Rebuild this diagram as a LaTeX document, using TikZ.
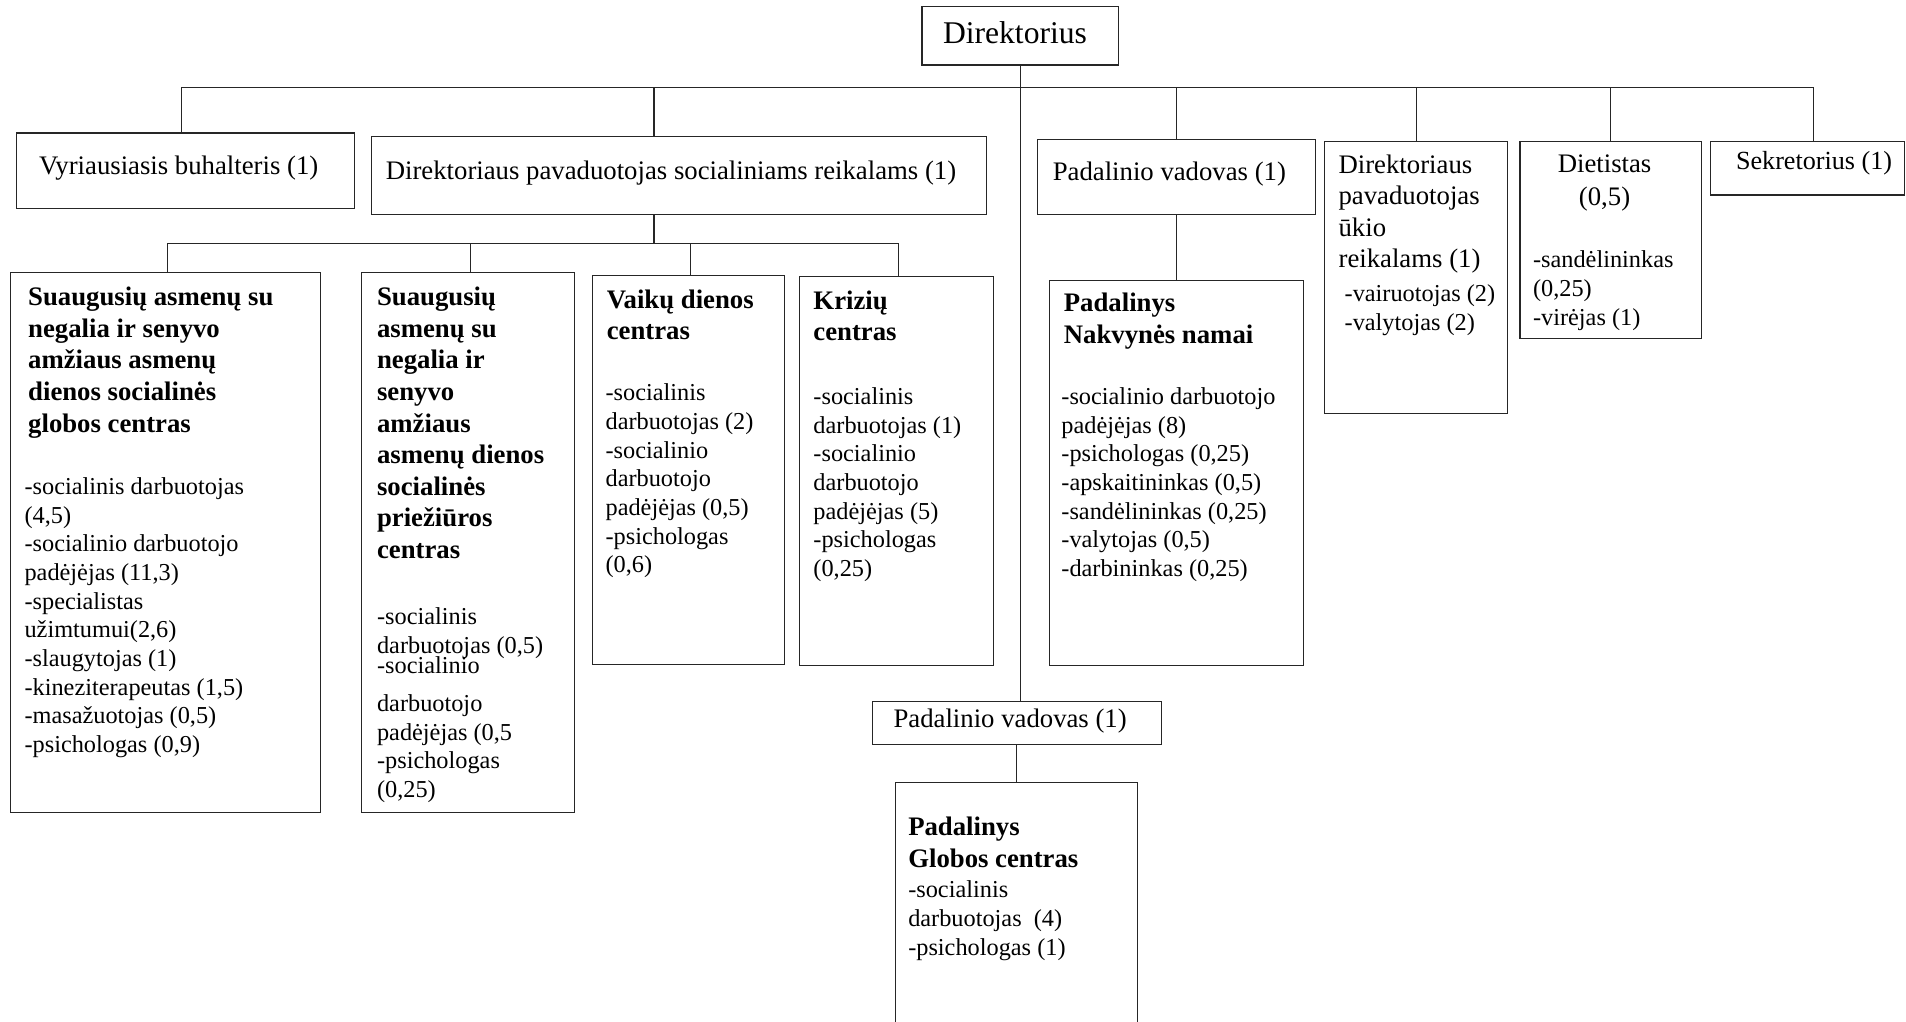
\documentclass[tikz,border=0pt]{standalone}
\usepackage{fontspec}
\setmainfont{Liberation Serif}
\usetikzlibrary{calc}
\tikzset{
  ln/.style={draw=black!85, line width=0.9pt},
  box/.style={ln, inner sep=0pt, anchor=north west},
  body/.style={font=\fontsize{20}{23.6}\selectfont, align=left, anchor=north west, inner sep=0pt},
  ttl/.style={font=\bfseries\fontsize{22}{26}\selectfont, align=left, anchor=north west, inner sep=0pt},
  ttr/.style={font=\fontsize{22}{26}\selectfont, align=left, anchor=north west, inner sep=0pt},
  one/.style={font=\fontsize{22}{26}\selectfont, inner sep=0pt, anchor=center}
}
\begin{document}
\begin{tikzpicture}[x=1pt, y=-1pt]
\useasboundingbox (0,0) rectangle (1568,840);
\clip (0,0) rectangle (1568,840);
\fill[white] (0,0) rectangle (1568,840);
% boxes
\node[box, minimum width=162pt, minimum height=48pt] (dir) at (758,5) {};
\node[box, minimum width=278pt, minimum height=62pt] (vb) at (13,109) {};
\node[box, minimum width=506pt, minimum height=64pt] (dps) at (305,112) {};
\node[box, minimum width=229pt, minimum height=62pt] (pv1) at (853,114) {};
\node[box, minimum width=151pt, minimum height=224pt] (dpu) at (1089,116) {};
\node[box, minimum width=149pt, minimum height=162pt] (die) at (1250,116) {};
\node[box, minimum width=159pt, minimum height=44pt] (sek) at (1407,116) {};
\node[box, minimum width=255pt, minimum height=444pt] (A) at (8,224) {};
\node[box, minimum width=175pt, minimum height=444pt] (B) at (297,224) {};
\node[box, minimum width=158pt, minimum height=320pt] (C) at (487,226) {};
\node[box, minimum width=160pt, minimum height=320pt] (D) at (657,227) {};
\node[box, minimum width=209pt, minimum height=317pt] (E) at (863,230) {};
\node[box, minimum width=238pt, minimum height=35pt] (pv2) at (717,577) {};
\node[box, minimum width=199pt, minimum height=240pt] (F) at (736,643) {};
% connectors
\coordinate (busL) at (149,72);
\coordinate (busR) at (1492,72);
\coordinate (b2) at (538,72);
\draw[ln] (busL) -- (busR);
\draw[ln] (dir.south) -- (dir.south |- pv2.north);
\draw[ln] (busL) -- (busL |- vb.north);
\draw[ln] (b2) -- (b2 |- dps.north);
\draw[ln] (pv1.north |- busL) -- (pv1.north);
\draw[ln] (dpu.north |- busL) -- (dpu.north);
\draw[ln] (die.north |- busL) -- (die.north);
\draw[ln] (busR) -- (busR |- sek.north);
\coordinate (c0) at (538,200);
\coordinate (c1) at (138,200);
\coordinate (c2) at (387,200);
\coordinate (c3) at (568,200);
\coordinate (c4) at (739,200);
\draw[ln] (c0 |- dps.south) -- (c0);
\draw[ln] (c1) -- (c4);
\draw[ln] (c1) -- (c1 |- A.north);
\draw[ln] (c2) -- (c2 |- B.north);
\draw[ln] (c3) -- (c3 |- C.north);
\draw[ln] (c4) -- (c4 |- D.north);
\draw[ln] (pv1.south) -- (pv1.south |- E.north);
\draw[ln] (pv2.south) -- (pv2.south |- F.north);
% single-line texts
\node[one, font=\fontsize{26}{30}\selectfont] (tdir) at (835,27) {Direktorius};
\node[one] (tvb) at (147,138) {Vyriausiasis buhalteris (1)};
\node[one] (tdps) at (552,142) {Direktoriaus pavaduotojas socialiniams reikalams (1)};
\node[one] (tpv1) at (962,143) {Padalinio vadovas (1)};
\node[one] (tpv2) at (831,593) {Padalinio vadovas (1)};
\node[one, anchor=west, font=\fontsize{21.5}{26}\selectfont] (tsek) at (1428,134) {Sekretorius (1)};
% Direktoriaus pavaduotojas ukio
\node[ttr] (tdpu) at (1101,124) {\strut Direktoriaus\\pavaduotojas\\ūkio\\reikalams (1)};
\node[body, font=\fontsize{20}{24}\selectfont] (bdpu) at (1106,231) {\strut -vairuotojas (2)\\-valytojas (2)};
% Dietistas
\node[ttr, align=center, anchor=north, font=\fontsize{22}{27}\selectfont] (tdie) at (1320,123) {\strut Dietistas\\(0,5)};
\node[body, font=\fontsize{20}{24}\selectfont] (bdie) at (1261,203) {\strut -sandėlininkas\\(0,25)\\-virėjas (1)};
% A
\node[ttl] (tA) at (23,233) {\strut Suaugusių asmenų su\\negalia ir senyvo\\amžiaus asmenų\\dienos socialinės\\globos centras};
\node[body] (bA) at (20,390) {\strut -socialinis darbuotojas\\(4,5)\\-socialinio darbuotojo\\padėjėjas (11,3)\\-specialistas\\užimtumui(2,6)\\-slaugytojas (1)\\-kineziterapeutas (1,5)\\-masažuotojas (0,5)\\-psichologas (0,9)};
% B
\node[ttl] (tB) at (310,233) {\strut Suaugusių\\asmenų su\\negalia ir\\senyvo\\amžiaus\\asmenų dienos\\socialinės\\priežiūros\\centras};
\node[body] (bB) at (310,497) {\strut -socialinis\\darbuotojas (0,5)\\[-6.6pt]-socialinio\\[7.4pt]darbuotojo\\padėjėjas (0,5\\-psichologas\\(0,25)};
% C
\node[ttl] (tC) at (499,235) {\strut Vaikų dienos\\centras};
\node[body] (bC) at (498,313) {\strut -socialinis\\darbuotojas (2)\\-socialinio\\darbuotojo\\padėjėjas (0,5)\\-psichologas\\(0,6)};
% D
\node[ttl] (tD) at (669,236) {\strut Krizių\\centras};
\node[body] (bD) at (669,316) {\strut -socialinis\\darbuotojas (1)\\-socialinio\\darbuotojo\\padėjėjas (5)\\-psichologas\\(0,25)};
% E
\node[ttl] (tE) at (875,238) {\strut Padalinys\\Nakvynės namai};
\node[body] (bE) at (873,316) {\strut -socialinio darbuotojo\\padėjėjas (8)\\-psichologas (0,25)\\-apskaitininkas (0,5)\\-sandėlininkas (0,25)\\-valytojas (0,5)\\-darbininkas (0,25)};
% F
\node[ttl] (tF) at (747,669) {\strut Padalinys\\Globos centras};
\node[body, font=\fontsize{20}{24}\selectfont] (bF) at (747,721) {\strut -socialinis\\darbuotojas~~(4)\\-psichologas (1)};
\end{tikzpicture}
\end{document}
